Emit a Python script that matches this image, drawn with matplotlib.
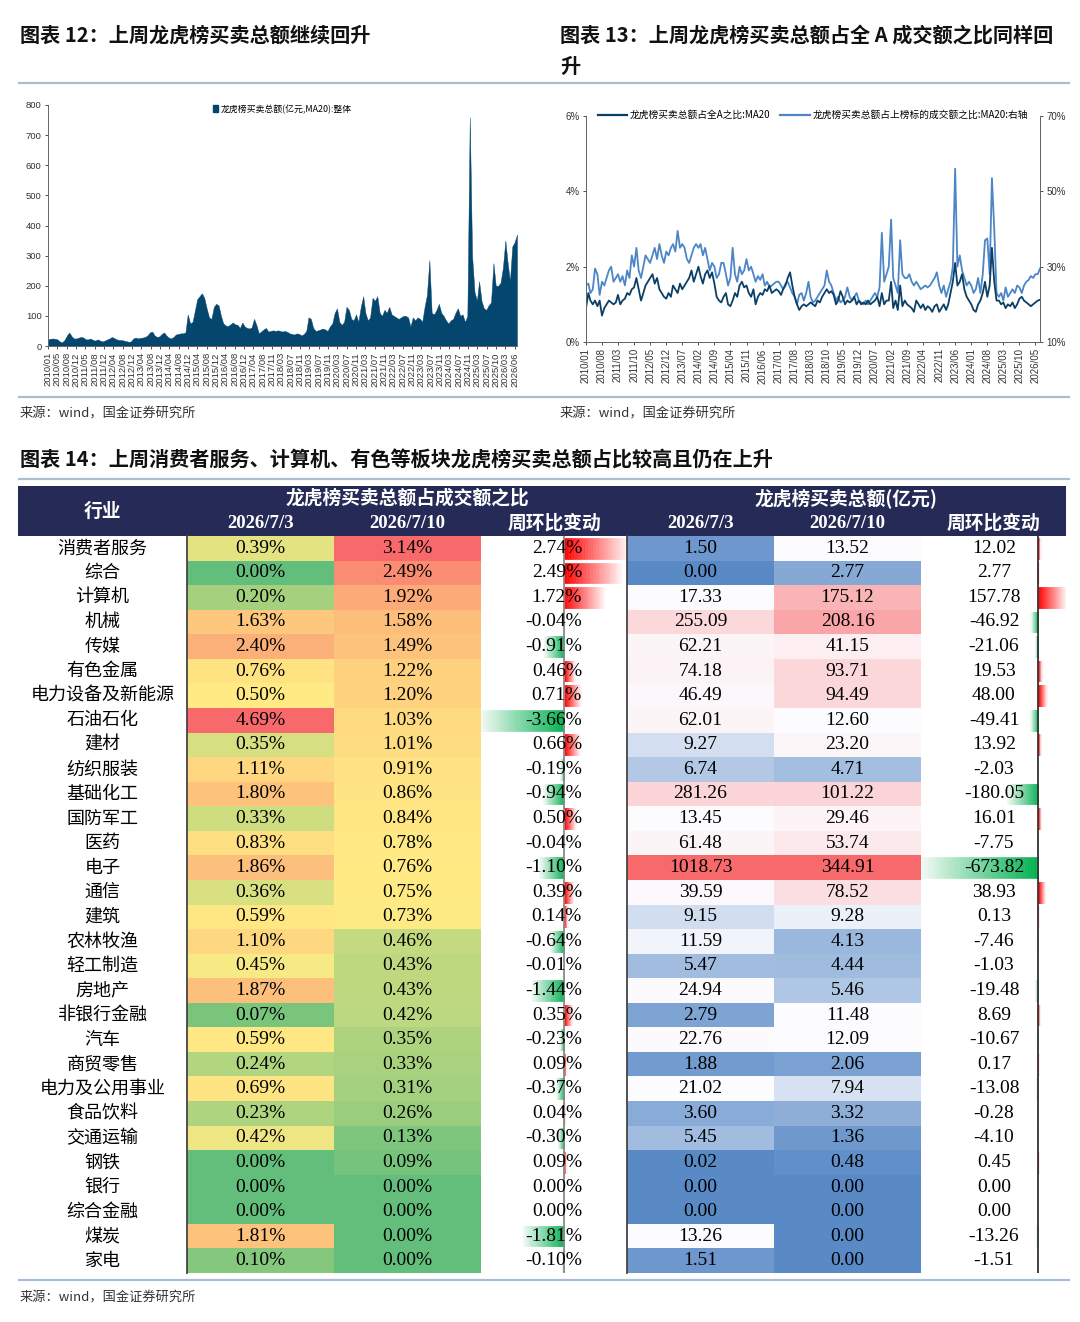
import numpy as np
import pandas as pd
import matplotlib
matplotlib.use("Agg")
import matplotlib.pyplot as plt
from matplotlib.patches import Rectangle, Patch
from matplotlib.lines import Line2D
from matplotlib.colors import LinearSegmentedColormap, to_rgb

plt.rcParams['font.family'] = ['Noto Sans CJK SC', 'DejaVu Sans']

# ---------------- 数据：图表12 龙虎榜买卖总额 (亿元, MA20)，按月读取 ----------------
months = pd.date_range("2010-01-01", "2026-07-01", freq="MS")
lhb_total = (
    [22, 24, 25, 24, 22, 15, 12, 20, 35, 45, 32, 25] +            # 2010
    [25, 28, 30, 28, 22, 22, 25, 20, 18, 22, 18, 15] +            # 2011
    [18, 22, 25, 30, 26, 22, 20, 20, 18, 16, 14, 15] +            # 2012
    [25, 28, 25, 27, 28, 30, 35, 45, 48, 35, 30, 32] +            # 2013
    [40, 45, 35, 28, 25, 30, 38, 40, 42, 42, 45, 105] +           # 2014
    [75, 80, 115, 155, 165, 175, 160, 125, 95, 90, 130, 140] +    # 2015
    [135, 100, 75, 68, 66, 72, 78, 72, 70, 60, 78, 65] +          # 2016
    [60, 58, 62, 90, 70, 42, 48, 55, 60, 48, 50, 52] +            # 2017
    [50, 52, 50, 48, 50, 47, 42, 40, 38, 42, 40, 35] +            # 2018
    [40, 50, 95, 90, 60, 50, 52, 55, 58, 55, 50, 65] +            # 2019
    [75, 110, 125, 80, 70, 80, 130, 120, 90, 85, 105, 80] +       # 2020
    [130, 165, 110, 85, 95, 160, 150, 165, 110, 100, 120, 110] +  # 2021
    [130, 105, 100, 95, 90, 95, 100, 100, 95, 65, 95, 85] +       # 2022
    [95, 90, 80, 130, 170, 285, 110, 105, 120, 140, 110, 100] +   # 2023
    [85, 75, 85, 90, 110, 125, 100, 105, 80, 100, 760, 300] +     # 2024
    [180, 150, 215, 150, 125, 120, 135, 145, 275, 200, 200, 210] +  # 2025
    [260, 350, 280, 215, 330, 345, 370]                           # 2026
)
left_xticks = ["2010/01", "2010/05", "2010/08", "2010/12", "2011/05", "2011/08", "2011/12",
               "2012/04", "2012/08", "2012/12", "2013/04", "2013/08", "2013/12", "2014/04",
               "2014/08", "2014/12", "2015/04", "2015/08", "2015/12", "2016/04", "2016/08",
               "2016/12", "2017/04", "2017/08", "2017/11", "2018/03", "2018/07", "2018/11",
               "2019/03", "2019/07", "2019/11", "2020/03", "2020/07", "2020/11", "2021/03",
               "2021/07", "2021/11", "2022/03", "2022/07", "2022/11", "2023/03", "2023/07",
               "2023/11", "2024/03", "2024/07", "2024/11", "2025/03", "2025/07", "2025/10",
               "2026/03", "2026/06"]

# ---------------- 数据：图表13 占比 (%) ----------------
pct_all = (
    [0.9, 1.3, 1.1, 1.0, 1.1, 0.95, 1.1, 0.7, 0.9, 1.0, 1.1, 1.05] +
    [1.0, 1.05, 1.25, 1.0, 1.1, 1.15, 1.3, 1.25, 1.4, 1.45, 1.7, 1.4] +
    [1.1, 1.3, 1.5, 1.6, 1.7, 1.8, 1.55, 1.7, 1.4, 1.3, 1.2, 1.15] +
    [1.3, 1.2, 1.5, 1.4, 1.3, 1.55, 1.4, 1.5, 1.6, 1.7, 1.9, 1.6] +
    [1.8, 2.0, 1.75, 1.55, 1.8, 1.9, 1.7, 1.85, 1.55, 1.2, 1.1, 1.05] +
    [1.2, 1.3, 1.0, 0.95, 1.1, 1.3, 1.2, 1.5, 1.6, 1.45, 1.5, 1.3] +
    [1.2, 1.4, 1.0, 1.2, 1.3, 1.25, 1.4, 1.35, 1.5, 1.3, 1.35, 1.4] +
    [1.35, 1.25, 1.4, 1.5, 1.7, 1.85, 1.5, 1.2, 1.0, 0.85, 0.95, 1.0] +
    [0.95, 1.0, 1.05, 1.0, 0.95, 1.1, 1.05, 1.2, 1.3, 1.4, 1.3, 1.35] +
    [1.25, 1.0, 1.1, 1.35, 1.2, 1.0, 1.1, 1.05, 1.1, 1.2, 1.0, 1.1] +
    [1.0, 1.05, 1.0, 1.1, 1.0, 1.05, 1.1, 1.2, 0.95, 1.3, 1.0, 1.1] +
    [1.1, 1.6, 0.9, 1.1, 0.85, 1.5, 0.95, 1.1, 1.0, 0.95, 0.9, 0.8] +
    [1.1, 1.0, 0.9, 1.0, 0.85, 0.95, 0.9, 0.8, 0.95, 1.0, 0.8, 0.9] +
    [1.0, 0.85, 1.0, 1.3, 1.6, 2.1, 1.5, 1.6, 1.8, 1.4, 1.2, 1.1] +
    [1.0, 0.85, 0.8, 1.0, 1.1, 1.3, 1.6, 1.2, 1.5, 2.5, 1.6, 1.1] +
    [1.1, 1.0, 1.05, 0.9, 1.0, 0.95, 1.05, 0.9, 1.0, 1.15, 1.2, 1.1] +
    [1.05, 1.0, 0.95, 1.0, 1.05, 1.1, 1.12]
)
pct_listed = (
    [25, 25.5, 23, 24, 29.5, 28, 22.5, 26, 25, 27, 29, 30] +
    [26, 27, 28, 26, 27.5, 25, 29, 27, 33, 30, 35, 29] +
    [27, 30, 33, 32, 31, 33, 35, 32, 36, 33, 31, 34] +
    [33, 35, 36, 34, 39.5, 35, 36, 35, 32, 31, 33, 35] +
    [36, 35, 36, 33, 35, 32, 29, 31, 30, 27, 28, 31] +
    [31, 28, 25, 27, 35, 28, 26, 30, 28, 29, 32, 29] +
    [30, 28, 26, 27.5, 26.5, 28, 25, 26, 24.5, 25, 25.5, 26] +
    [26, 25, 24, 25.5, 26, 24.5, 23, 22, 20, 22.5, 23, 21] +
    [23, 26, 22, 20.5, 21, 22, 23, 24, 25, 29, 26, 25] +
    [23, 21, 22, 20.5, 21, 22, 24.5, 22, 21, 22, 23, 21] +
    [20.5, 20, 21, 20, 21, 22, 23, 22, 24.5, 39, 26, 28] +
    [30, 42.5, 27, 25, 23, 37, 28, 27, 27, 28, 26, 25] +
    [26, 25, 24, 24.5, 25, 24.5, 25, 26, 27, 28.5, 25, 23] +
    [25, 22, 24, 26, 30, 56, 30, 33, 29, 27, 25, 26] +
    [25, 23, 24, 27, 23, 28, 37, 37.5, 28, 53.5, 40, 23] +
    [22, 23, 21, 24.5, 22, 23, 24, 23, 25, 24.5, 23, 25] +
    [26, 26.5, 27.5, 27, 28, 28, 29.5]
)
right_xticks = ["2010/01", "2010/08", "2011/03", "2011/10", "2012/05", "2012/12", "2013/07",
                "2014/02", "2014/09", "2015/04", "2015/11", "2016/06", "2017/01", "2017/08",
                "2018/03", "2018/10", "2019/05", "2019/12", "2020/07", "2021/02", "2021/09",
                "2022/04", "2022/11", "2023/06", "2024/01", "2024/08", "2025/03", "2025/10",
                "2026/05"]

# ---------------- 数据：图表14 表格 ----------------
industries = ["消费者服务", "综合", "计算机", "机械", "传媒", "有色金属", "电力设备及新能源", "石油石化",
              "建材", "纺织服装", "基础化工", "国防军工", "医药", "电子", "通信", "建筑", "农林牧渔",
              "轻工制造", "房地产", "非银行金融", "汽车", "商贸零售", "电力及公用事业", "食品饮料",
              "交通运输", "钢铁", "银行", "综合金融", "煤炭", "家电"]
ratio_0703 = [0.39, 0.00, 0.20, 1.63, 2.40, 0.76, 0.50, 4.69, 0.35, 1.11, 1.80, 0.33, 0.83, 1.86, 0.36,
              0.59, 1.10, 0.45, 1.87, 0.07, 0.59, 0.24, 0.69, 0.23, 0.42, 0.00, 0.00, 0.00, 1.81, 0.10]
ratio_0710 = [3.14, 2.49, 1.92, 1.58, 1.49, 1.22, 1.20, 1.03, 1.01, 0.91, 0.86, 0.84, 0.78, 0.76, 0.75,
              0.73, 0.46, 0.43, 0.43, 0.42, 0.35, 0.33, 0.31, 0.26, 0.13, 0.09, 0.00, 0.00, 0.00, 0.00]
ratio_chg = [2.74, 2.49, 1.72, -0.04, -0.91, 0.46, 0.71, -3.66, 0.66, -0.19, -0.94, 0.50, -0.04, -1.10,
             0.39, 0.14, -0.64, -0.01, -1.44, 0.35, -0.23, 0.09, -0.37, 0.04, -0.30, 0.09, 0.00, 0.00,
             -1.81, -0.10]
amt_0703 = [1.50, 0.00, 17.33, 255.09, 62.21, 74.18, 46.49, 62.01, 9.27, 6.74, 281.26, 13.45, 61.48,
            1018.73, 39.59, 9.15, 11.59, 5.47, 24.94, 2.79, 22.76, 1.88, 21.02, 3.60, 5.45, 0.02, 0.00,
            0.00, 13.26, 1.51]
amt_0710 = [13.52, 2.77, 175.12, 208.16, 41.15, 93.71, 94.49, 12.60, 23.20, 4.71, 101.22, 29.46, 53.74,
            344.91, 78.52, 9.28, 4.13, 4.44, 5.46, 11.48, 12.09, 2.06, 7.94, 3.32, 1.36, 0.48, 0.00,
            0.00, 0.00, 0.00]
amt_chg = [12.02, 2.77, 157.78, -46.92, -21.06, 19.53, 48.00, -49.41, 13.92, -2.03, -180.05, 16.01,
           -7.75, -673.82, 38.93, 0.13, -7.46, -1.03, -19.48, 8.69, -10.67, 0.17, -13.08, -0.28, -4.10,
           0.45, 0.00, 0.00, -13.26, -1.51]

# ---------------- 样式 ----------------
W, H = 1080, 1322
NAVY_FILL = "#04466E"
DARK_LINE = "#0B3F66"
LIGHT_LINE = "#4C86C6"
HEADER = "#262A56"
RULE = "#A9BED3"
TICK_FONT = "Liberation Sans"
NUM_FONT = "Liberation Serif"

fig = plt.figure(figsize=(W / 100, H / 100), dpi=100)


def px_axes(x0, y0, x1, y1):
    # 按像素位置建坐标轴 (y 自上而下)
    return fig.add_axes([x0 / W, 1 - y1 / H, (x1 - x0) / W, (y1 - y0) / H])


def style_ticks(ax, size=7):
    ax.tick_params(direction="out", length=2.5, width=0.6, colors="#333333", labelsize=size, pad=2)
    for lab in ax.get_xticklabels() + ax.get_yticklabels():
        lab.set_fontfamily(TICK_FONT)


# ---------------- 图表12 ----------------
ax1 = px_axes(48, 105, 517, 346)
ax1.fill_between(months, 0, lhb_total, color=NAVY_FILL, lw=0.3, edgecolor=NAVY_FILL)
ax1.set_xlim(months[0], months[-1])
ax1.set_ylim(0, 800)
ax1.set_yticks(range(0, 801, 100))
# 原图为交易日类目轴，标签等间距排列
t0 = pd.Timestamp(left_xticks[0].replace("/", "-") + "-01")
t1 = pd.Timestamp(left_xticks[-1].replace("/", "-") + "-01")
ax1.set_xticks(pd.to_datetime(np.linspace(t0.value, t1.value, len(left_xticks))))
ax1.set_xticklabels(left_xticks, rotation=90)
for s in ["top", "right"]:
    ax1.spines[s].set_visible(False)
for s in ["left", "bottom"]:
    ax1.spines[s].set_color("#666666")
    ax1.spines[s].set_linewidth(0.7)
style_ticks(ax1, 6.8)
ax1.legend(handles=[Patch(color=NAVY_FILL, label="龙虎榜买卖总额(亿元,MA20):整体")],
           loc="upper center", bbox_to_anchor=(0.5, 1.035), frameon=False, fontsize=6.4,
           handlelength=0.6, handleheight=0.8, handletextpad=0.3)

# ---------------- 图表13 ----------------
ax2 = px_axes(586, 116, 1040, 342)
ax2r = ax2.twinx()
ax2r.plot(months, pct_listed, color=LIGHT_LINE, lw=1.3)
ax2.plot(months, pct_all, color=DARK_LINE, lw=1.3)
ax2.set_zorder(ax2r.get_zorder() + 1)
ax2.patch.set_visible(False)
ax2.set_xlim(months[0], months[-1])
ax2.set_ylim(0, 6)
ax2r.set_ylim(10, 70)
ax2.set_yticks([0, 2, 4, 6])
ax2.set_yticklabels([f"{t}%" for t in [0, 2, 4, 6]])
ax2r.set_yticks([10, 30, 50, 70])
ax2r.set_yticklabels([f"{t}%" for t in [10, 30, 50, 70]])
ax2.set_xticks([pd.Timestamp(s.replace("/", "-") + "-01") for s in right_xticks])
ax2.set_xticklabels(right_xticks, rotation=90)
for a in (ax2, ax2r):
    a.spines["top"].set_visible(False)
    for s in ["left", "right", "bottom"]:
        a.spines[s].set_color("#666666")
        a.spines[s].set_linewidth(0.7)
    style_ticks(a, 7)
ax2.legend(handles=[Line2D([], [], color=DARK_LINE, lw=1.6, label="龙虎榜买卖总额占全A之比:MA20"),
                    Line2D([], [], color=LIGHT_LINE, lw=1.6, label="龙虎榜买卖总额占上榜标的成交额之比:MA20:右轴")],
           loc="upper center", bbox_to_anchor=(0.5, 1.065), ncol=2, frameon=False, fontsize=7,
           handlelength=3.0, handletextpad=0.3, columnspacing=1.0)

# ---------------- 图表14 表格 ----------------
col_edges = [18, 187, 334, 481, 627, 774, 921, 1066]
head_top, head_bot = 486, 536
tab_bot = 1273
n = len(industries)
row_h = (tab_bot - head_bot) / n


def color_scale(vals, lo, mid, hi):
    v = np.asarray(vals, float)
    vmin, vmid, vmax = v.min(), np.percentile(v, 50), v.max()
    lo, mid, hi = map(np.array, map(to_rgb, (lo, mid, hi)))
    out = []
    for x in v:
        if x <= vmid:
            t = 0 if vmid == vmin else (x - vmin) / (vmid - vmin)
            out.append(lo + t * (mid - lo))
        else:
            t = (x - vmid) / (vmax - vmid)
            out.append(mid + t * (hi - mid))
    return out


GYR = ("#63BE7B", "#FFEB84", "#F8696B")
BWR = ("#5A8AC6", "#FCFCFF", "#F8696B")
red_cmap = LinearSegmentedColormap.from_list("red_bar", ["#FF0000", "#FFF2F2"])
green_cmap = LinearSegmentedColormap.from_list("green_bar", ["#00B050", "#EEF8F1"])
N_SEG = 40


def data_bars(x0, x1, vals, axis_color):
    # 渐变数据条：每根条按 N_SEG 段着色
    ax = px_axes(x0, head_bot, x1, tab_bot)
    shades = np.linspace(0, 1, N_SEG)
    for i, v in enumerate(vals):
        if v == 0:
            continue
        cmap = red_cmap if v > 0 else green_cmap
        edges = np.linspace(0, v, N_SEG + 1)
        cols = cmap(shades)
        ax.barh([i] * N_SEG, np.diff(edges), left=edges[:-1], height=0.84,
                color=cols, edgecolor=cols, lw=0.4)
    ax.set_xlim(min(vals), max(vals))
    ax.set_ylim(n - 0.5, -0.5)
    ax.axvline(0, color=axis_color, lw=1.3)
    ax.axis("off")
    ax.set_zorder(1)
    return ax


data_bars(col_edges[3], col_edges[4], ratio_chg, "#8A8A8A")
data_bars(col_edges[6], col_edges[7], amt_chg, "#333333")

page = fig.add_axes([0, 0, 1, 1])
page.set_xlim(0, W)
page.set_ylim(H, 0)
page.axis("off")
page.patch.set_alpha(0)
page.set_zorder(5)

# 标题与来源
title_kw = dict(fontsize=14.5, fontweight="bold", va="center", ha="left", color="#111111")
page.text(20, 35, "图表 12：上周龙虎榜买卖总额继续回升", **title_kw)
page.text(560, 35, "图表 13：上周龙虎榜买卖总额占全 A 成交额之比同样回", **title_kw)
page.text(560, 66, "升", **title_kw)
page.text(20, 460, "图表 14：上周消费者服务、计算机、有色等板块龙虎榜买卖总额占比较高且仍在上升", **title_kw)
src_kw = dict(fontsize=9.5, va="center", ha="left", color="#333333")
page.text(20, 414, "来源：wind，国金证券研究所", **src_kw)
page.text(560, 414, "来源：wind，国金证券研究所", **src_kw)
page.text(20, 1298, "来源：wind，国金证券研究所", **src_kw)
for yy in (83, 397, 479, 1280):
    page.plot([18, 1070], [yy, yy], color=RULE, lw=1.6, solid_capstyle="butt")

# 表头
page.add_patch(Rectangle((col_edges[0], head_top), col_edges[-1] - col_edges[0], head_bot - head_top,
                         color=HEADER, lw=0))
hz_kw = dict(color="white", fontsize=13.5, fontweight="bold", ha="center", va="center")
hn_kw = dict(color="white", fontsize=13.5, fontweight="bold", ha="center", va="center", fontfamily=NUM_FONT)
page.text((col_edges[0] + col_edges[1]) / 2, 511, "行业", **hz_kw)
page.text((col_edges[1] + col_edges[4]) / 2, 498, "龙虎榜买卖总额占成交额之比", **hz_kw)
page.text((col_edges[4] + col_edges[7]) / 2, 498, "龙虎榜买卖总额(亿元)", **hz_kw)
sub_heads = ["2026/7/3", "2026/7/10", "周环比变动", "2026/7/3", "2026/7/10", "周环比变动"]
for k, s in enumerate(sub_heads):
    xc = (col_edges[k + 1] + col_edges[k + 2]) / 2
    page.text(xc, 523, s, **(hz_kw if "周" in s else hn_kw))

# 单元格
cell_cols = {1: color_scale(ratio_0703, *GYR), 2: color_scale(ratio_0710, *GYR),
             4: color_scale(amt_0703, *BWR), 5: color_scale(amt_0710, *BWR)}
cell_vals = {1: [f"{v:.2f}%" for v in ratio_0703], 2: [f"{v:.2f}%" for v in ratio_0710],
             4: [f"{v:.2f}" for v in amt_0703], 5: [f"{v:.2f}" for v in amt_0710]}
num_kw = dict(fontsize=14, fontfamily=NUM_FONT, va="center", color="black")
for i in range(n):
    yt = head_bot + i * row_h
    yc = yt + row_h / 2
    page.text((col_edges[0] + col_edges[1]) / 2, yc, industries[i], fontsize=13, ha="center",
              va="center", color="black")
    for c, cols in cell_cols.items():
        page.add_patch(Rectangle((col_edges[c], yt), col_edges[c + 1] - col_edges[c], row_h + 0.3,
                                 color=cols[i], lw=0, zorder=1))
        page.text((col_edges[c] + col_edges[c + 1]) / 2, yc, cell_vals[c][i], ha="center",
                  zorder=3, **num_kw)
    page.text(582, yc, f"{ratio_chg[i]:.2f}%", ha="right", zorder=3, **num_kw)
    page.text(994, yc, f"{amt_chg[i]:.2f}", ha="center", zorder=3, **num_kw)

for xx in (col_edges[1], col_edges[4]):
    page.plot([xx, xx], [head_bot, tab_bot], color="#444444", lw=1.3, zorder=4)

fig.savefig("out.png", dpi=100)
